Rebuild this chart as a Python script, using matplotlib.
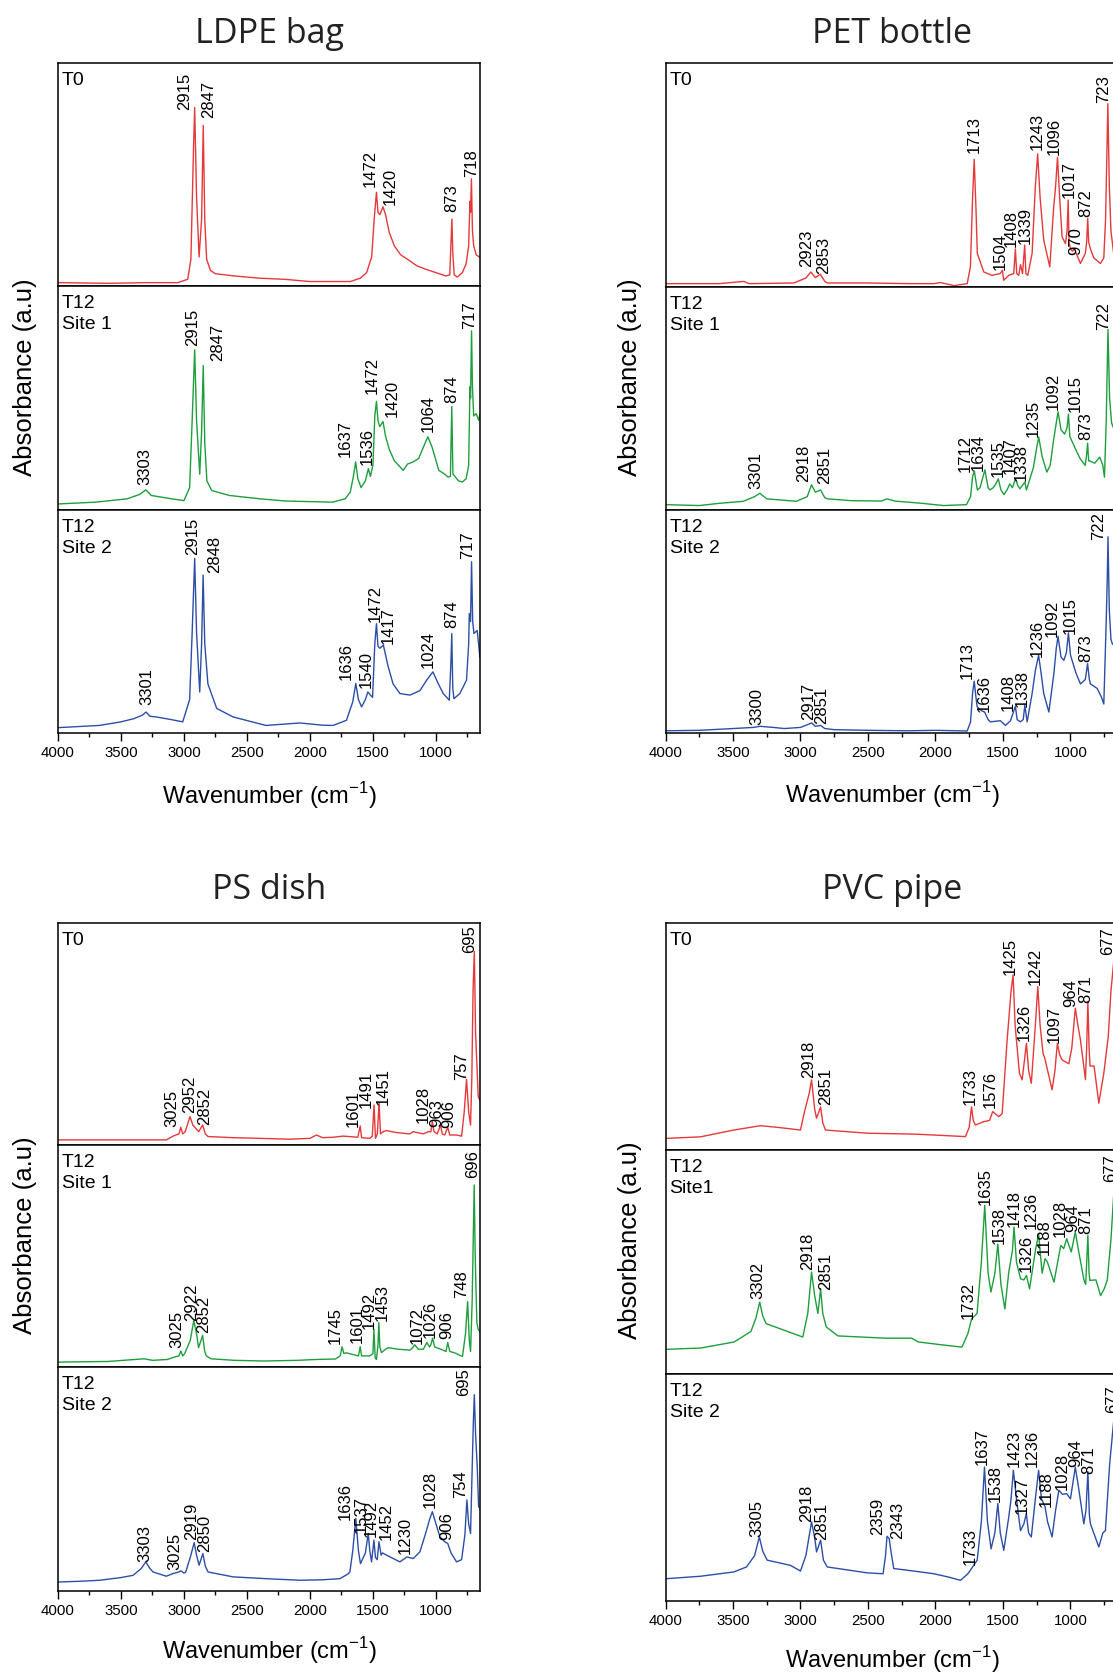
import matplotlib
matplotlib.use('Agg')
import matplotlib.pyplot as plt
from matplotlib.ticker import MultipleLocator

plt.rcParams['font.family'] = ['Liberation Sans', 'DejaVu Sans']

W, H = 1113, 1676

RED, GREEN, BLUE = '#e5393a', '#1f9e3e', '#2c4ea6'

# FTIR spectra, (wavenumber cm-1, relative absorbance within its strip)
ldpe_t0 = [(4000, .015), (3600, .012), (3300, .015), (3050, .015), (2970, .03), (2945, .12), (2925, .6),
           (2915, .80), (2900, .4), (2880, .13), (2860, .3), (2847, .72), (2835, .3), (2820, .12), (2790, .07),
           (2750, .055), (2600, .045), (2400, .035), (2200, .03), (2000, .02), (1800, .02), (1680, .02),
           (1600, .035), (1550, .06), (1510, .13), (1490, .3), (1472, .42), (1460, .33), (1445, .32),
           (1420, .355), (1400, .32), (1370, .24), (1330, .18), (1280, .14), (1200, .11), (1150, .09),
           (1080, .075), (1000, .06), (920, .045), (890, .05), (880, .2), (873, .30), (866, .15), (855, .05),
           (830, .04), (790, .06), (760, .1), (740, .18), (730, .38), (725, .33), (718, .48), (710, .25),
           (700, .18), (680, .14), (655, .13)]
ldpe_s1 = [(4000, .027), (3700, .035), (3450, .05), (3350, .07), (3303, .09), (3260, .065), (3100, .05),
           (3000, .042), (2955, .1), (2935, .4), (2915, .715), (2900, .4), (2875, .16), (2860, .35),
           (2847, .645), (2835, .3), (2818, .13), (2780, .087), (2640, .065), (2400, .05), (2190, .04),
           (1820, .035), (1720, .05), (1680, .08), (1655, .15), (1637, .215), (1620, .14), (1594, .10),
           (1560, .13), (1536, .185), (1520, .15), (1500, .2), (1485, .42), (1472, .485), (1460, .4),
           (1446, .372), (1420, .395), (1400, .33), (1370, .27), (1330, .22), (1260, .177), (1225, .205),
           (1180, .215), (1137, .23), (1100, .28), (1064, .327), (1030, .28), (977, .177), (930, .16),
           (903, .147), (885, .15), (874, .462), (865, .16), (850, .15), (820, .13), (790, .125), (760, .14),
           (740, .2), (730, .55), (725, .5), (717, .80), (710, .55), (700, .42), (680, .43), (660, .4),
           (650, .43)]
ldpe_s2 = [(4000, .024), (3800, .03), (3670, .034), (3500, .05), (3400, .064), (3330, .08), (3301, .094),
           (3270, .075), (3220, .072), (3100, .06), (3010, .05), (2955, .15), (2935, .45), (2915, .783),
           (2900, .45), (2875, .184), (2860, .4), (2848, .708), (2835, .4), (2810, .22), (2740, .11),
           (2610, .072), (2350, .034), (2200, .04), (2080, .045), (1900, .035), (1816, .034), (1710, .057),
           (1660, .14), (1636, .222), (1615, .15), (1590, .117), (1560, .15), (1540, .184), (1520, .17),
           (1503, .16), (1485, .4), (1472, .49), (1460, .39), (1445, .38), (1417, .394), (1380, .3),
           (1340, .22), (1286, .177), (1207, .17), (1127, .19), (1070, .24), (1024, .274), (980, .22),
           (942, .177), (894, .147), (882, .3), (874, .446), (866, .2), (857, .154), (810, .177), (757, .237),
           (740, .4), (735, .536), (725, .5), (717, .768), (708, .5), (698, .446), (672, .46), (651, .34)]

pet_t0 = [(4000, .015), (3600, .015), (3420, .025), (3380, .015), (3050, .018), (2960, .04), (2923, .067),
          (2890, .042), (2853, .057), (2820, .025), (2800, .018), (2500, .018), (2200, .015), (2012, .015),
          (1963, .02), (1864, .006), (1765, .015), (1741, .09), (1725, .4), (1713, .57), (1700, .35),
          (1690, .15), (1642, .067), (1582, .052), (1520, .06), (1504, .075), (1495, .03), (1457, .052),
          (1420, .06), (1408, .17), (1398, .06), (1383, .052), (1370, .1), (1355, .06), (1339, .187),
          (1330, .06), (1316, .052), (1284, .15), (1260, .45), (1243, .594), (1225, .4), (1198, .209),
          (1153, .09), (1125, .35), (1110, .45), (1096, .579), (1080, .4), (1062, .224), (1037, .194),
          (1025, .25), (1017, .388), (1010, .2), (1000, .17), (985, .16), (970, .17), (950, .14), (926, .105),
          (890, .15), (880, .2), (872, .306), (865, .2), (852, .17), (827, .13), (778, .105), (753, .13),
          (740, .3), (730, .6), (723, .818), (712, .45), (700, .25), (680, .15), (650, .12)]
pet_s1 = [(4000, .024), (3750, .02), (3600, .03), (3424, .039), (3340, .06), (3301, .075), (3250, .05),
          (3150, .045), (3030, .039), (2950, .06), (2918, .113), (2890, .08), (2851, .09), (2820, .055),
          (2800, .05), (2630, .042), (2400, .04), (2360, .05), (2300, .04), (2100, .03), (1940, .02),
          (1770, .024), (1740, .06), (1725, .15), (1712, .174), (1690, .09), (1670, .1), (1634, .18),
          (1610, .1), (1597, .09), (1572, .1), (1550, .12), (1535, .14), (1515, .09), (1493, .069),
          (1470, .09), (1449, .117), (1430, .1), (1407, .14), (1390, .11), (1375, .095), (1338, .125),
          (1326, .09), (1290, .16), (1274, .192), (1250, .28), (1235, .327), (1210, .24), (1175, .17),
          (1150, .2), (1126, .31), (1100, .41), (1092, .44), (1070, .36), (1043, .34), (1025, .37),
          (1015, .43), (1005, .33), (990, .31), (960, .27), (928, .23), (891, .2), (880, .25), (873, .30),
          (865, .22), (856, .22), (820, .21), (783, .237), (760, .2), (748, .147), (735, .4), (722, .81),
          (710, .5), (695, .39), (670, .35), (650, .32)]
pet_s2 = [(4000, .01), (3750, .012), (3500, .02), (3350, .025), (3300, .03), (3200, .025), (3120, .02),
          (3000, .025), (2917, .045), (2890, .03), (2851, .034), (2820, .02), (2750, .015), (2500, .012),
          (2200, .01), (2000, .012), (1765, .009), (1740, .05), (1725, .18), (1713, .232), (1700, .16),
          (1691, .117), (1660, .1), (1636, .094), (1610, .06), (1593, .05), (1519, .055), (1482, .034),
          (1444, .055), (1408, .12), (1395, .06), (1371, .05), (1350, .06), (1338, .124), (1321, .05),
          (1284, .177), (1260, .28), (1236, .349), (1220, .28), (1198, .177), (1160, .094), (1123, .266),
          (1105, .38), (1092, .434), (1070, .34), (1049, .326), (1030, .36), (1015, .449), (1000, .35),
          (988, .326), (960, .27), (926, .22), (890, .24), (873, .311), (860, .24), (852, .22), (802, .2),
          (770, .16), (753, .13), (735, .5), (727, .7), (722, .88), (712, .55), (700, .42), (690, .4),
          (650, .38)]

ps_t0 = [(4000, .023), (3500, .023), (3140, .023), (3087, .04), (3040, .05), (3025, .08), (3010, .05),
         (2990, .06), (2952, .128), (2930, .09), (2883, .06), (2852, .09), (2830, .05), (2809, .038),
         (2610, .033), (2400, .03), (2160, .026), (2000, .03), (1948, .045), (1900, .033), (1816, .035),
         (1736, .04), (1620, .035), (1601, .086), (1590, .033), (1525, .03), (1505, .04), (1491, .18),
         (1480, .03), (1465, .05), (1451, .19), (1440, .05), (1420, .06), (1392, .065), (1313, .056),
         (1207, .05), (1180, .06), (1101, .05), (1060, .06), (1040, .06), (1028, .105), (1015, .06),
         (990, .05), (963, .09), (950, .05), (930, .045), (906, .08), (890, .045), (836, .045), (796, .04),
         (775, .15), (757, .296), (740, .15), (725, .09), (715, .3), (705, .7), (695, .872), (685, .5),
         (664, .218), (650, .2)]
ps_s1 = [(4000, .022), (3600, .025), (3316, .037), (3250, .03), (3131, .034), (3069, .046), (3040, .05),
         (3025, .072), (3010, .05), (2995, .06), (2950, .12), (2922, .21), (2900, .15), (2884, .087),
         (2852, .142), (2835, .07), (2822, .05), (2785, .037), (2600, .03), (2365, .027), (2100, .03),
         (1946, .034), (1798, .036), (1760, .05), (1745, .091), (1730, .06), (1711, .064), (1650, .055),
         (1615, .05), (1601, .091), (1590, .05), (1575, .05), (1526, .05), (1500, .06), (1492, .17),
         (1482, .04), (1472, .034), (1460, .1), (1453, .2), (1445, .09), (1432, .065), (1400, .08),
         (1378, .087), (1300, .08), (1205, .076), (1180, .09), (1168, .1), (1140, .08), (1100, .08),
         (1072, .11), (1050, .09), (1040, .1), (1026, .13), (1010, .09), (960, .08), (920, .07), (906, .11),
         (890, .07), (859, .065), (836, .06), (800, .05), (789, .048), (765, .15), (748, .295), (735, .12),
         (725, .07), (712, .3), (703, .6), (696, .82), (688, .5), (675, .2), (664, .168), (650, .16)]
ps_s2 = [(4000, .04), (3800, .044), (3669, .048), (3500, .06), (3404, .07), (3340, .1), (3303, .13),
         (3270, .1), (3245, .085), (3140, .066), (3087, .078), (3040, .085), (3025, .09), (3000, .08),
         (2986, .085), (2950, .15), (2919, .216), (2900, .16), (2880, .115), (2850, .167), (2830, .11),
         (2809, .085), (2610, .063), (2345, .055), (2080, .048), (1900, .05), (1763, .055), (1700, .075),
         (1683, .085), (1660, .18), (1636, .324), (1615, .18), (1599, .122), (1560, .17), (1537, .257),
         (1525, .18), (1511, .13), (1492, .227), (1480, .15), (1466, .14), (1452, .22), (1435, .16),
         (1424, .17), (1392, .16), (1286, .13), (1230, .152), (1180, .145), (1127, .175), (1080, .26),
         (1050, .32), (1028, .354), (1000, .3), (968, .242), (930, .22), (906, .212), (880, .17), (836, .13),
         (796, .14), (770, .25), (754, .406), (740, .3), (725, .257), (712, .55), (703, .75), (695, .876),
         (685, .7), (672, .555), (661, .376), (650, .37)]

pvc_t0 = [(4000, .051), (3741, .058), (3494, .088), (3296, .107), (3173, .1), (3000, .088), (2970, .17),
          (2935, .25), (2918, .309), (2895, .18), (2881, .14), (2851, .19), (2835, .12), (2815, .088),
          (2506, .074), (2160, .07), (2012, .066), (1778, .059), (1750, .1), (1733, .19), (1720, .13),
          (1704, .11), (1642, .125), (1600, .13), (1576, .169), (1531, .147), (1506, .16), (1469, .485),
          (1440, .7), (1425, .772), (1410, .55), (1378, .338), (1358, .309), (1340, .4), (1326, .47),
          (1310, .35), (1290, .294), (1260, .55), (1242, .72), (1225, .55), (1203, .426), (1190, .404),
          (1136, .265), (1115, .35), (1097, .47), (1080, .42), (1062, .397), (1012, .38), (990, .45),
          (964, .625), (945, .55), (926, .485), (889, .31), (880, .45), (871, .654), (862, .45), (855, .37),
          (825, .37), (790, .206), (753, .338), (720, .5), (700, .7), (677, .845), (665, .8), (650, .75)]
pvc_s1 = [(4000, .11), (3739, .116), (3491, .143), (3367, .19), (3330, .25), (3302, .321), (3280, .26),
          (3255, .225), (3119, .195), (3020, .173), (2983, .165), (2946, .27), (2918, .455), (2895, .35),
          (2871, .27), (2851, .38), (2835, .27), (2809, .21), (2722, .17), (2375, .16), (2176, .16),
          (2127, .143), (1950, .13), (1804, .12), (1760, .18), (1732, .247), (1692, .27), (1660, .5),
          (1635, .753), (1610, .45), (1589, .366), (1560, .45), (1538, .58), (1515, .4), (1486, .29),
          (1457, .455), (1430, .55), (1418, .656), (1400, .5), (1370, .425), (1345, .42), (1326, .44),
          (1303, .38), (1260, .55), (1236, .626), (1210, .45), (1188, .515), (1171, .5), (1122, .41),
          (1072, .574), (1050, .56), (1028, .604), (994, .545), (964, .634), (940, .55), (900, .42),
          (887, .4), (871, .619), (862, .45), (856, .418), (811, .42), (777, .35), (750, .38), (727, .42),
          (700, .6), (677, .827), (660, .8), (650, .8)]
pvc_s2 = [(4000, .098), (3741, .109), (3494, .128), (3400, .15), (3340, .2), (3305, .282), (3280, .22),
          (3247, .18), (3074, .157), (3000, .132), (2960, .2), (2918, .349), (2895, .28), (2881, .216),
          (2851, .268), (2830, .18), (2802, .15), (2506, .124), (2388, .12), (2370, .2), (2359, .285),
          (2343, .275), (2325, .2), (2309, .143), (2136, .13), (2012, .12), (1900, .105), (1815, .091),
          (1760, .12), (1733, .143), (1691, .18), (1660, .35), (1637, .59), (1615, .35), (1588, .23),
          (1560, .3), (1538, .43), (1520, .3), (1494, .223), (1457, .37), (1440, .45), (1423, .576),
          (1400, .45), (1370, .31), (1345, .34), (1327, .385), (1310, .3), (1290, .282), (1260, .45),
          (1236, .576), (1215, .45), (1188, .415), (1170, .35), (1136, .282), (1110, .4), (1086, .488),
          (1060, .47), (1028, .473), (1000, .45), (964, .59), (940, .5), (901, .34), (885, .4), (871, .57),
          (860, .38), (852, .34), (790, .238), (760, .3), (741, .31), (710, .6), (677, .81), (660, .8),
          (650, .8)]

# assigned bands for each spectrum
ldpe_t0_peaks = [2915, 2847, 1472, 1420, 873, 718]
ldpe_s1_peaks = [3303, 2915, 2847, 1637, 1536, 1472, 1420, 1064, 874, 717]
ldpe_s2_peaks = [3301, 2915, 2848, 1636, 1540, 1472, 1417, 1024, 874, 717]
pet_t0_peaks = [2923, 2853, 1713, 1504, 1408, 1339, 1243, 1096, 1017, 970, 872, 723]
pet_s1_peaks = [3301, 2918, 2851, 1712, 1634, 1535, 1407, 1338, 1235, 1092, 1015, 873, 722]
pet_s2_peaks = [3300, 2917, 2851, 1713, 1636, 1408, 1338, 1236, 1092, 1015, 873, 722]
ps_t0_peaks = [3025, 2952, 2852, 1601, 1491, 1451, 1028, 963, 906, 757, 695]
ps_s1_peaks = [3025, 2922, 2852, 1745, 1601, 1492, 1453, 1072, 1026, 906, 748, 696]
ps_s2_peaks = [3303, 3025, 2919, 2850, 1636, 1537, 1492, 1452, 1230, 1028, 906, 754, 695]
pvc_t0_peaks = [2918, 2851, 1733, 1576, 1425, 1326, 1242, 1097, 964, 871, 677]
pvc_s1_peaks = [3302, 2918, 2851, 1732, 1635, 1538, 1418, 1326, 1236, 1188, 1028, 964, 871, 677]
pvc_s2_peaks = [3305, 2918, 2851, 2359, 2343, 1733, 1637, 1538, 1423, 1327, 1236, 1188, 1028, 964, 871, 677]

# where each band label sits (x in cm-1, bottom of text in strip units)
ldpe_t0_lab = [(2994, .79), (2801, .753), (1525, .446), (1366, .364), (876, .334), (717, .49)]
ldpe_s1_lab = [(3310, .11), (2928, .733), (2735, .665), (1718, .237), (1545, .2), (1508, .52), (1347, .417),
               (1063, .35), (873, .477), (730, .81)]
ldpe_s2_lab = [(3298, .124), (2928, .80), (2756, .716), (1710, .237), (1551, .2), (1485, .5), (1379, .40),
               (1061, .29), (876, .47), (751, .78)]
pet_t0_lab = [(2951, .09), (2827, .06), (1716, .6), (1519, .075), (1440, .18), (1333, .194), (1247, .612),
              (1119, .59), (1012, .396), (963, .142), (889, .313), (753, .82)]
pet_s1_lab = [(3330, .095), (2979, .125), (2818, .117), (1782, .17), (1683, .177), (1535, .147), (1448, .162),
              (1362, .132), (1275, .327), (1127, .447), (967, .44), (886, .315), (757, .808)]
pet_s2_lab = [(3321, .034), (2938, .057), (2847, .042), (1765, .244), (1642, .094), (1464, .10), (1358, .117),
              (1247, .34), (1136, .43), (1000, .446), (889, .32), (790, .865)]
ps_t0_lab = [(3100, .083), (2954, .143), (2835, .09), (1657, .083), (1551, .165), (1419, .18), (1101, .098),
             (995, .083), (902, .075), (796, .293), (730, .865)]
ps_s1_lab = [(3057, .087), (2941, .207), (2847, .154), (1802, .102), (1625, .109), (1531, .169), (1427, .207),
             (1151, .102), (1044, .132), (914, .124), (796, .31), (709, .85)]
ps_s2_lab = [(3312, .13), (3073, .093), (2941, .227), (2835, .175), (1723, .316), (1591, .257), (1511, .242),
             (1392, .227), (1246, .167), (1048, .369), (916, .227), (802, .413), (783, .869)]
pvc_t0_lab = [(2938, .316), (2815, .2), (1746, .2), (1593, .184), (1449, .772), (1346, .478), (1259, .728),
              (1123, .47), (995, .632), (889, .647), (728, .86)]
pvc_s1_lab = [(3313, .336), (2945, .463), (2816, .373), (1754, .247), (1630, .753), (1531, .582), (1419, .656),
              (1328, .455), (1288, .649), (1196, .53), (1072, .612), (980, .634), (886, .626), (700, .857)]
pvc_s2_lab = [(3326, .282), (2956, .349), (2844, .268), (2427, .29), (2284, .275), (1746, .157), (1654, .6),
              (1556, .437), (1420, .59), (1358, .385), (1284, .59), (1178, .415), (1062, .488), (963, .59),
              (864, .56), (691, .826)]

fig = plt.figure(figsize=(W / 100, H / 100), dpi=100)


def px_axes(left, right, top, bottom):
    return fig.add_axes([left / W, 1 - bottom / H, (right - left) / W, (bottom - top) / H])


def strip(ax, spec, color, peaks, labs, tag, bottom_axis):
    wn = [p[0] for p in spec]
    ab = [p[1] for p in spec]
    ax.plot(wn, ab, color=color, lw=1.0)
    for pk, (lx, ly) in zip(peaks, labs):
        ax.text(lx, ly, str(pk), rotation=90, rotation_mode='anchor', ha='left', va='center',
                fontsize=12)
    ax.annotate(tag, xy=(0, 1), xycoords='axes fraction', xytext=(4, -9), textcoords='offset pixels',
                ha='left', va='top', fontsize=14, linespacing=1.3)
    ax.set_xlim(4000, 650)
    ax.set_ylim(0, 1)
    ax.set_yticks([])
    for s in ax.spines.values():
        s.set_linewidth(1.1)
    if bottom_axis:
        ax.xaxis.set_major_locator(MultipleLocator(500))
        ax.xaxis.set_minor_locator(MultipleLocator(250))
        ax.tick_params(axis='x', which='major', direction='out', length=5.5, width=1.0, labelsize=10.8, pad=4)
        ax.tick_params(axis='x', which='minor', direction='out', length=3, width=1.0)
    else:
        ax.set_xticks([])


# title, left/right px, strip edges px, title baseline, x-label baseline, y-label centre, ...
groups = [
    ('LDPE bag', 58, 480, [63, 286, 510, 733], 43, 804, 377,
     [ldpe_t0, ldpe_s1, ldpe_s2], [ldpe_t0_peaks, ldpe_s1_peaks, ldpe_s2_peaks],
     [ldpe_t0_lab, ldpe_s1_lab, ldpe_s2_lab], ['T0', 'T12\nSite 1', 'T12\nSite 2']),
    ('PET bottle', 665.5, 1117.7, [63, 287, 510, 733], 43, 803, 377,
     [pet_t0, pet_s1, pet_s2], [pet_t0_peaks, pet_s1_peaks, pet_s2_peaks],
     [pet_t0_lab, pet_s1_lab, pet_s2_lab], ['T0', 'T12\nSite 1', 'T12\nSite 2']),
    ('PS dish', 58, 480, [923, 1145, 1367, 1591], 899, 1659, 1235,
     [ps_t0, ps_s1, ps_s2], [ps_t0_peaks, ps_s1_peaks, ps_s2_peaks],
     [ps_t0_lab, ps_s1_lab, ps_s2_lab], ['T0', 'T12\nSite 1', 'T12\nSite 2']),
    ('PVC pipe', 665.5, 1117.7, [923, 1150, 1374, 1601], 899, 1668, 1240,
     [pvc_t0, pvc_s1, pvc_s2], [pvc_t0_peaks, pvc_s1_peaks, pvc_s2_peaks],
     [pvc_t0_lab, pvc_s1_lab, pvc_s2_lab], ['T0', 'T12\nSite1', 'T12\nSite 2']),
]

for title, left, right, edges, title_y, xlab_y, ylab_y, specs, peaks, labs, tags in groups:
    for i, color in enumerate([RED, GREEN, BLUE]):
        ax = px_axes(left, right, edges[i], edges[i + 1])
        strip(ax, specs[i], color, peaks[i], labs[i], tags[i], i == 2)
    # right-hand column runs past the page edge, so centre on its visible part
    cx = (58 + 480) / 2 if left < 100 else 892
    fig.text(cx / W, 1 - title_y / H, title, family=['Open Sans', 'DejaVu Sans'], fontsize=24.5,
             ha='center', va='baseline', color='#222222')
    fig.text(cx / W, 1 - xlab_y / H, r'Wavenumber (cm$^{\mathregular{-1}}$)', fontsize=17,
             ha='center', va='baseline')
    ylx = 25 if left < 100 else 630
    fig.text(ylx / W, 1 - ylab_y / H, 'Absorbance (a.u)', rotation=90, fontsize=18.5,
             ha='center', va='center')

fig.savefig('out.png', dpi=100)
